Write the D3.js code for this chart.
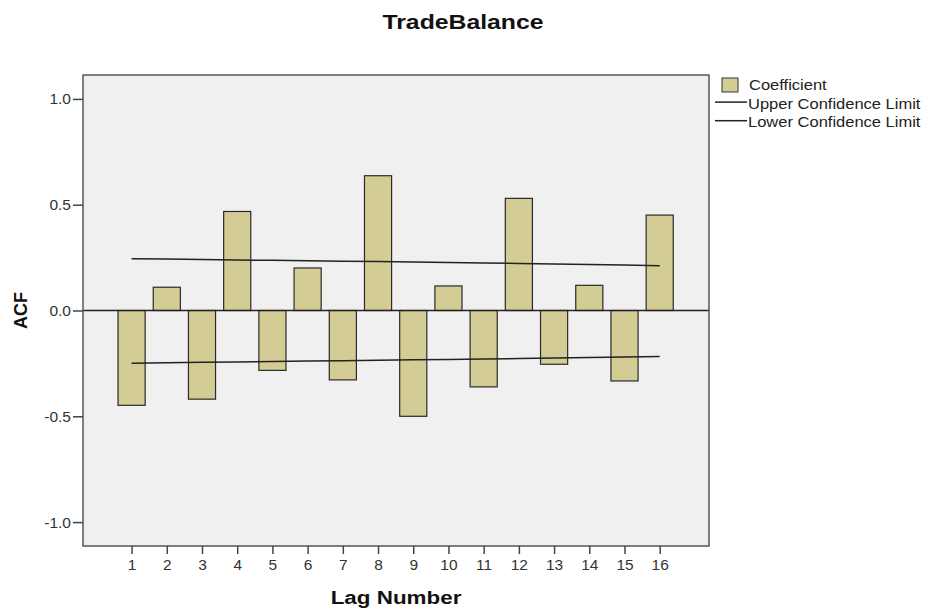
<!DOCTYPE html>
<html>
<head>
<meta charset="utf-8">
<script src="https://cdn.jsdelivr.net/npm/d3@7"></script>
<style>
  body { margin: 0; background: #fff; }
  text { font-family: Arial, "Liberation Sans", sans-serif; }
</style>
</head>
<body>
<div id="chart"></div>
<script>
// ACF values per lag
var lags = [1, 2, 3, 4, 5, 6, 7, 8, 9, 10, 11, 12, 13, 14, 15, 16];
var coefficient = [-0.448, 0.110, -0.419, 0.468, -0.283, 0.201, -0.328, 0.637,
                   -0.500, 0.116, -0.361, 0.530, -0.254, 0.119, -0.333, 0.451];
var upperLimit = [0.245, 0.243, 0.241, 0.239, 0.237, 0.235, 0.233, 0.231,
                  0.229, 0.227, 0.225, 0.222, 0.220, 0.217, 0.215, 0.212];
var lowerLimit = [-0.249, -0.247, -0.245, -0.243, -0.241, -0.239, -0.237, -0.235,
                  -0.233, -0.231, -0.229, -0.227, -0.225, -0.222, -0.220, -0.217];
var yTicks = [-1.0, -0.5, 0.0, 0.5, 1.0];
var legendItems = ["Coefficient", "Upper Confidence Limit", "Lower Confidence Limit"];

var width = 937, height = 614;
var plot = { left: 83, right: 709, top: 75, bottom: 546 };
var stretch = 1.18; // the original picture is a bit wider than tall

var svg = d3.select("#chart").append("svg")
  .attr("width", width)
  .attr("height", height);

// scales
var x = d3.scaleLinear().domain([-0.38, 17.4]).range([plot.left, plot.right]);
var y = d3.scaleLinear().domain([-1.113, 1.113]).range([plot.bottom, plot.top]);
var barW = (x(2) - x(1)) * 0.77;
var fmt = d => d3.format(".1f")(d).replace("\u2212", "-");

// plot background
svg.append("rect")
  .attr("x", plot.left).attr("y", plot.top)
  .attr("width", plot.right - plot.left).attr("height", plot.bottom - plot.top)
  .attr("fill", "#f0f0f0");

// bars
var data = lags.map((l, i) => ({ lag: l, value: coefficient[i] }));
svg.selectAll("rect.bar")
  .data(data)
  .enter().append("rect")
  .attr("class", "bar")
  .attr("x", d => x(d.lag) - barW / 2)
  .attr("width", barW)
  .attr("y", d => y(Math.max(0, d.value)))
  .attr("height", d => Math.abs(y(d.value) - y(0)))
  .attr("fill", "#d3cd95")
  .attr("stroke", "#2a2a2a")
  .attr("stroke-width", 1.2);

// zero reference line
svg.append("line")
  .attr("x1", plot.left).attr("x2", plot.right)
  .attr("y1", y(0)).attr("y2", y(0))
  .attr("stroke", "#222")
  .attr("stroke-width", 1.5);

// confidence limits
var line = d3.line().x(d => x(d[0])).y(d => y(d[1]));
[upperLimit, lowerLimit].forEach(lim => {
  svg.append("path")
    .attr("d", line(lags.map((l, i) => [l, lim[i]])))
    .attr("fill", "none")
    .attr("stroke", "#222")
    .attr("stroke-width", 1.5);
});

// frame on top
svg.append("rect")
  .attr("x", plot.left).attr("y", plot.top)
  .attr("width", plot.right - plot.left).attr("height", plot.bottom - plot.top)
  .attr("fill", "none")
  .attr("stroke", "#555")
  .attr("stroke-width", 1.5);

// axes
var yAxis = d3.axisLeft(y).tickValues(yTicks).tickFormat(fmt).tickSizeOuter(0).tickSize(10).tickPadding(2);
var gy = svg.append("g").attr("transform", "translate(" + plot.left + ",0)").call(yAxis);
gy.select(".domain").remove();
gy.selectAll(".tick line").attr("stroke", "#444").attr("stroke-width", 1.5);
gy.selectAll(".tick text").attr("fill", "#333").style("font-size", "15.5px");

var xAxis = d3.axisBottom(x).tickValues(lags).tickFormat(d3.format("d")).tickSizeOuter(0).tickSize(8).tickPadding(5);
var gx = svg.append("g").attr("transform", "translate(0," + plot.bottom + ")").call(xAxis);
gx.select(".domain").remove();
gx.selectAll(".tick line").attr("stroke", "#444").attr("stroke-width", 1.5);
gx.selectAll(".tick text").attr("fill", "#333").style("font-size", "15.5px");

// titles
svg.append("text")
  .attr("transform", "translate(463,29) scale(" + stretch + ",1)")
  .attr("text-anchor", "middle")
  .style("font-size", "21px").style("font-weight", "bold")
  .attr("fill", "#111")
  .text("TradeBalance");

svg.append("text")
  .attr("transform", "translate(" + ((plot.left + plot.right) / 2) + ",604) scale(" + stretch + ",1)")
  .attr("text-anchor", "middle")
  .style("font-size", "19px").style("font-weight", "bold")
  .attr("fill", "#111")
  .text("Lag Number");

svg.append("text")
  .attr("transform", "translate(26.5," + y(0) + ") rotate(-90)")
  .attr("text-anchor", "middle")
  .style("font-size", "18px").style("font-weight", "bold")
  .attr("fill", "#111")
  .text("ACF");

// legend
var legend = svg.append("g").attr("transform", "translate(715,90)");
legendItems.forEach((name, i) => {
  var row = legend.append("g").attr("transform", "translate(0," + (i * 18.6) + ")");
  if (i === 0) {
    row.append("rect")
      .attr("x", 7).attr("y", -12).attr("width", 16).attr("height", 14)
      .attr("fill", "#d3cd95").attr("stroke", "#333").attr("stroke-width", 1);
  } else {
    row.append("line")
      .attr("x1", 0).attr("x2", 32).attr("y1", -6.5).attr("y2", -6.5)
      .attr("stroke", "#222").attr("stroke-width", 1.5);
  }
  row.append("text")
    .attr("transform", "translate(" + (i === 0 ? 34 : 33) + ",0) scale(" + stretch + ",1)")
    .style("font-size", "14px")
    .attr("fill", "#222")
    .text(name);
});
</script>
</body>
</html>
